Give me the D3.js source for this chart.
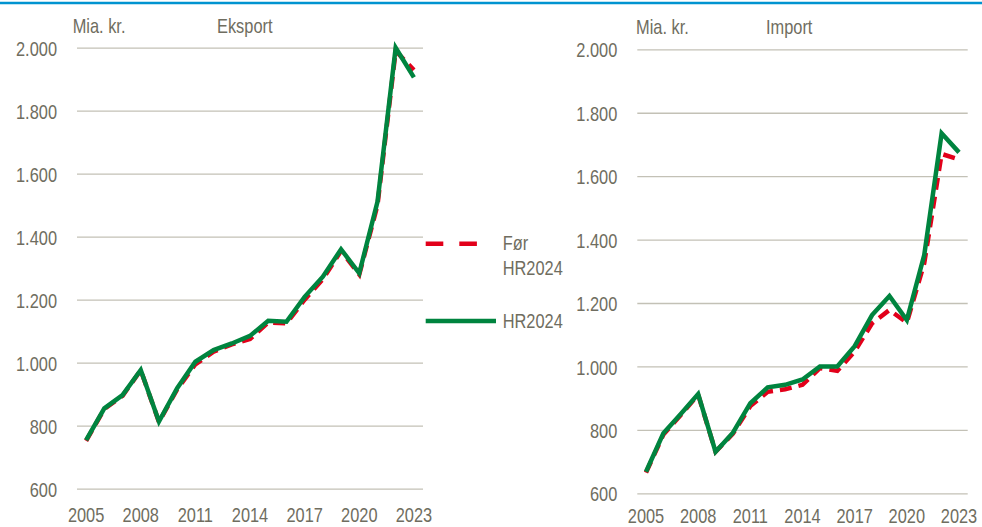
<!DOCTYPE html>
<html>
<head>
<meta charset="utf-8">
<script src="https://cdn.jsdelivr.net/npm/d3@7"></script>
<style>
  body { margin: 0; background: #fff; }
  svg text { font-family: "Liberation Sans Narrow", "Arial Narrow", "Liberation Sans", sans-serif; fill: #6f6d60; }
</style>
</head>
<body>
<script>
var years = d3.range(2005, 2024)
var xTickYears = [2005, 2008, 2011, 2014, 2017, 2020, 2023]
var yTicks = [600, 800, 1000, 1200, 1400, 1600, 1800, 2000]

// Eksport, mia. kr.
var eksportFor = [752, 853, 895, 976, 812, 915, 995, 1035, 1058, 1075, 1128, 1125, 1200, 1265, 1355, 1280, 1500, 1990, 1929]
var eksportHR  = [754, 855, 897, 977, 813, 919, 1003, 1040, 1061, 1085, 1133, 1130, 1209, 1273, 1360, 1284, 1511, 2000, 1906]

// Import, mia. kr.
var importFor = [665, 785, 847, 911, 731, 788, 875, 920, 928, 942, 995, 986, 1047, 1136, 1178, 1138, 1325, 1670, 1653]
var importHR  = [668, 789, 850, 913, 731, 791, 884, 934, 942, 959, 1000, 1000, 1064, 1162, 1222, 1146, 1351, 1735, 1675]

var seriesNames = ["Før HR2024", "HR2024"]
var red = "#e2001a", green = "#00843f", grid = "#c3c1b6"
var squeeze = 0.82   // no narrow font installed, so squeeze the text sideways

var svg = d3.select("body").append("svg")
	.attr("width", 982)
	.attr("height", 527)

function condense(sel) {
	sel.each(function() {
		var t = d3.select(this)
		var x = +t.attr("x") || 0
		t.attr("x", x / squeeze).attr("transform", "scale(" + squeeze + ",1)")
	})
}

function label(x, y, txt) {
	return svg.append("text").attr("x", x).attr("y", y).attr("font-size", 20).text(txt).call(condense)
}

// blue rule at the top
svg.append("line")
	.attr("x1", 0).attr("x2", 982)
	.attr("y1", 3).attr("y2", 3)
	.attr("stroke", "#0093d0")
	.attr("stroke-width", 2.5)

function drawPanel(p) {
	var x = d3.scaleBand().domain(years).range([p.left, p.right]).padding(0)
	var y = d3.scaleLinear().domain([600, 2000]).range([p.bottom, p.top])

	var yAxis = svg.append("g")
		.attr("transform", "translate(" + p.left + ",0)")
		.call(d3.axisLeft(y).tickValues(yTicks)
			.tickFormat(function(d) { return d3.format(",")(d).replace(",", ".") })
			.tickSize(-(p.right - p.left)).tickPadding(20))
	yAxis.select(".domain").remove()
	yAxis.selectAll(".tick line").attr("stroke", grid).attr("stroke-width", 1.3)
	yAxis.selectAll(".tick text").attr("font-size", 20).attr("dy", "0.38em").call(condense)

	var xAxis = svg.append("g")
		.attr("transform", "translate(0," + p.bottom + ")")
		.call(d3.axisBottom(x).tickValues(xTickYears).tickSize(0).tickPadding(p.xPad))
	xAxis.select(".domain").remove()
	xAxis.selectAll(".tick text").attr("font-size", 20).call(condense)

	var line = d3.line()
		.x(function(d, i) { return x(years[i]) + x.bandwidth() / 2 })
		.y(function(d) { return y(d) })

	svg.append("path").datum(p.before)
		.attr("d", line)
		.attr("fill", "none")
		.attr("stroke", red)
		.attr("stroke-width", 4.5)
		.attr("stroke-dasharray", "12,7")

	svg.append("path").datum(p.after)
		.attr("d", line)
		.attr("fill", "none")
		.attr("stroke", green)
		.attr("stroke-width", 4.5)

	label(p.unitX, p.titleY, "Mia. kr.")
	label(p.titleX, p.titleY, p.title)
}

drawPanel({ left: 77, right: 423, top: 47.7, bottom: 488.7, before: eksportFor, after: eksportHR,
	title: "Eksport", unitX: 72.7, titleX: 217, titleY: 33, xPad: 19 })
drawPanel({ left: 637.3, right: 967.7, top: 49.3, bottom: 493.3, before: importFor, after: importHR,
	title: "Import", unitX: 636, titleX: 766, titleY: 34, xPad: 16 })

// legend
svg.append("line")
	.attr("x1", 425.7).attr("x2", 477.7).attr("y1", 243.7).attr("y2", 243.7)
	.attr("stroke", red).attr("stroke-width", 4.5).attr("stroke-dasharray", "17.6,16")
label(502.7, 250, "Før")
label(502.7, 275, "HR2024")
svg.append("line")
	.attr("x1", 425.7).attr("x2", 496).attr("y1", 321).attr("y2", 321)
	.attr("stroke", green).attr("stroke-width", 4.5)
label(502.7, 328.3, seriesNames[1])
</script>
</body>
</html>
